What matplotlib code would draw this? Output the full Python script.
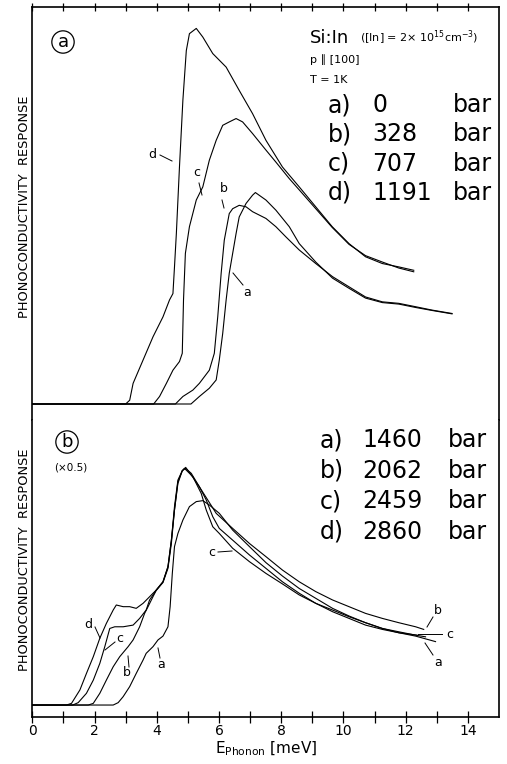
import matplotlib
matplotlib.use("Agg")
import matplotlib.pyplot as plt
from matplotlib.lines import Line2D

# ---- panel (a): Si:In, p || [100], T = 1 K   (energy in meV, response in arb. units, peak of d = 100)
a_d_E = [0, 3.0, 3.13, 3.24, 3.56, 3.88, 4.20, 4.41, 4.52, 4.57, 4.63, 4.73, 4.84, 4.95, 5.05, 5.27,
         5.48, 5.80, 6.23, 6.65, 7.08, 7.51, 8.04, 8.58, 9.11, 9.64, 10.18, 10.71, 11.25, 11.78, 12.26]
a_d_y = [0, 0, 1, 5.5, 11.7, 17.9, 23.2, 27.7, 29.4, 36.5, 45.4, 63.1, 80.9, 94.1, 98.6, 100,
         97.7, 93.3, 89.7, 83.5, 77.3, 70.2, 63.1, 57.8, 52.5, 47.2, 42.7, 39.2, 37.4, 36.5, 35.6]

a_c_E = [0, 3.9, 4.09, 4.31, 4.52, 4.73, 4.82, 4.86, 4.92, 5.05, 5.27, 5.48, 5.69, 5.91, 6.12, 6.33,
         6.55, 6.76, 7.08, 7.51, 7.83, 8.26, 8.58, 9.11, 9.64, 10.18, 10.71, 11.25, 11.78, 12.26]
a_c_y = [0, 0, 2, 5.5, 9.0, 11.3, 13.5, 27.7, 40.1, 47.2, 54.3, 57.8, 64.9, 70.2, 74.2, 75.1,
         76.0, 75.1, 72.0, 67.6, 64.4, 60.0, 57.0, 52.0, 47.0, 42.5, 39.5, 37.8, 36.2, 35.2]

a_b_E = [0, 4.6, 4.84, 5.16, 5.37, 5.69, 5.85, 5.96, 6.07, 6.17, 6.33, 6.44, 6.65, 6.87, 7.08, 7.51,
         7.83, 8.15, 8.58, 9.11, 9.65, 10.18, 10.71, 11.25, 11.78, 12.32, 12.85, 13.49]
a_b_y = [0, 0, 2.0, 3.7, 5.5, 9.0, 13.5, 23.2, 34.8, 43.6, 50.7, 52.0, 52.9, 52.5, 51.2, 49.4,
         47.2, 44.5, 41.0, 37.4, 33.9, 31.2, 28.5, 27.2, 26.8, 25.9, 25.0, 24.1]

a_a_E = [0, 5.1, 5.37, 5.69, 5.91, 6.01, 6.12, 6.23, 6.33, 6.44, 6.55, 6.65, 6.87, 7.08, 7.17, 7.51,
         7.83, 8.26, 8.58, 9.11, 9.65, 10.18, 10.71, 11.25, 11.78, 12.32, 12.85, 13.49]
a_a_y = [0, 0, 2.0, 4.2, 6.4, 11.7, 18.8, 27.7, 34.8, 40.1, 45.4, 49.8, 53.4, 55.6, 56.3, 54.3,
         51.6, 47.2, 42.7, 37.8, 33.5, 30.8, 28.2, 27.0, 26.6, 25.7, 24.9, 24.0]

a_labels = ["a)", "b)", "c)", "d)"]
a_pressures = ["0", "328", "707", "1191"]

# ---- panel (b): higher stress (x0.5), peak of d = 100
b_d_E = [0, 1.1, 1.26, 1.53, 1.74, 1.96, 2.17, 2.38, 2.60, 2.70, 2.92, 3.13, 3.34, 3.56, 3.72, 3.88,
         3.98, 4.20, 4.36, 4.47, 4.57, 4.68, 4.82, 4.93, 5.11, 5.37, 5.59, 5.80, 6.01, 6.44,
         6.98, 7.51, 8.04, 8.58, 9.11, 9.65, 10.18, 10.71, 11.25, 11.78, 12.32, 12.64]
b_d_y = [0.7, 0.7, 1.4, 7.0, 13.9, 20.9, 28.6, 34.8, 40.4, 42.5, 41.8, 41.8, 41.1, 43.2, 45.3, 47.4,
         48.7, 52.2, 58.5, 69.6, 83.6, 94.7, 98.6, 100, 96.8, 91.9, 86.4, 79.4, 74.5, 69.6,
         63.4, 57.8, 52.2, 47.4, 43.2, 40.4, 37.6, 35.1, 32.7, 31.3, 29.9, 29.2]

b_c_E = [0, 1.3, 1.475, 1.74, 1.96, 2.17, 2.33, 2.49, 2.65, 2.92, 3.24, 3.45, 3.66, 3.77, 3.88, 3.98,
         4.20, 4.36, 4.47, 4.57, 4.68, 4.82, 4.89, 5.16, 5.43, 5.59, 5.80, 6.01, 6.44, 6.98,
         7.51, 8.04, 8.58, 9.11, 9.65, 10.18, 10.71, 11.25, 11.78, 12.37]
b_c_y = [0.7, 0.7, 1.7, 5.6, 11.1, 18.1, 25.1, 32.7, 33.4, 33.4, 34.1, 36.9, 40.4, 44.6, 46.7, 48.7,
         52.2, 58.5, 69.6, 82.2, 93.3, 98.6, 99.6, 96.1, 89.1, 82.2, 75.2, 72.4, 66.2, 60.6,
         55.7, 51.3, 46.7, 43.2, 39.7, 36.9, 34.1, 32.3, 30.9, 29.9]

b_b_E = [0, 1.8, 1.96, 2.17, 2.38, 2.60, 2.81, 3.08, 3.24, 3.45, 3.61, 3.72, 3.88, 3.98, 4.20, 4.36,
         4.47, 4.57, 4.68, 4.82, 4.93, 5.11, 5.37, 5.91, 6.44, 6.98, 7.51, 8.04, 8.58, 9.11,
         9.65, 10.18, 10.71, 11.25, 11.78, 12.32, 12.58]
b_b_y = [0.7, 0.7, 1.4, 5.6, 11.1, 16.7, 20.9, 25.1, 27.9, 33.4, 39.0, 41.8, 46.0, 48.5, 51.9, 57.8,
         68.2, 82.2, 94.0, 98.6, 99.6, 97.5, 91.9, 80.8, 74.5, 68.2, 62.7, 57.1, 52.2, 48.1,
         44.6, 41.8, 39.0, 36.9, 35.1, 33.4, 32.3]

b_a_E = [0, 2.6, 2.76, 2.92, 3.13, 3.34, 3.56, 3.66, 3.88, 4.04, 4.20, 4.36, 4.43, 4.50, 4.57, 4.68,
         4.84, 5.05, 5.27, 5.48, 5.69, 6.01, 6.44, 6.98, 7.51, 8.04, 8.58, 9.11, 9.65, 10.18,
         10.71, 11.25, 11.78, 12.32, 12.96]
b_a_y = [0.7, 0.7, 1.7, 4.2, 8.4, 13.9, 19.5, 22.3, 25.1, 27.9, 29.5, 33.4, 41.8, 55.7, 66.9, 72.4,
         78.0, 83.6, 85.7, 86.1, 84.3, 80.8, 73.8, 66.9, 60.2, 54.6, 49.4, 45.3, 41.1, 37.9,
         35.1, 32.7, 30.9, 29.5, 27.2]

b_labels = ["a)", "b)", "c)", "d)"]
b_pressures = ["1460", "2062", "2459", "2860"]

x_ticks = list(range(0, 15))
x_ticklabels = [str(t) if t % 2 == 0 else "" for t in x_ticks]

W, H = 507, 764
fig = plt.figure(figsize=(W / 100, H / 100), dpi=100)


def fx(x, y):
    # reference pixel -> figure fraction
    return x / W, 1 - y / H


lw = 0.8
ax_a = fig.add_axes([32.3 / W, 1 - 420 / H, (499 - 32.3) / W, 413 / H])
ax_b = fig.add_axes([32.3 / W, 1 - 717 / H, (499 - 32.3) / W, 297 / H])

for E, y in [(a_d_E, a_d_y), (a_c_E, a_c_y), (a_b_E, a_b_y), (a_a_E, a_a_y)]:
    ax_a.plot(E, y, color="black", lw=lw)
for E, y in [(b_d_E, b_d_y), (b_c_E, b_c_y), (b_b_E, b_b_y), (b_a_E, b_a_y)]:
    ax_b.plot(E, y, color="black", lw=lw)

ax_a.set_xlim(0, 15)
ax_b.set_xlim(0, 15)
ax_a.set_ylim(-4.26, 105.7)
ax_b.set_ylim(-4.3, 119.8)

for ax in (ax_a, ax_b):
    ax.set_yticks([])
    for s in ax.spines.values():
        s.set_linewidth(1.2)
ax_a.spines["bottom"].set_visible(False)
ax_b.spines["top"].set_visible(False)

ax_a.set_xticks(x_ticks)
ax_a.xaxis.tick_top()
ax_a.tick_params(axis="x", direction="inout", length=6, width=0.9, labeltop=False)
ax_b.set_xticks(x_ticks)
ax_b.set_xticklabels(x_ticklabels)
ax_b.tick_params(axis="x", direction="inout", length=8, width=0.9, labelsize=10, pad=1)
ax_b.set_xlabel(r"$\mathregular{E_{Phonon}}$ [meV]", fontsize=11, labelpad=1)

for yc in (207, 560):
    fig.text(*fx(25, yc), "PHONOCONDUCTIVITY  RESPONSE", rotation=90, ha="center",
             va="center", fontsize=9.3)

# panel markers
circ = dict(boxstyle="circle,pad=0.12", fc="none", ec="black", lw=0.9)
fig.text(*fx(63, 42), "a", fontsize=13, ha="center", va="center", bbox=circ)
fig.text(*fx(67, 442), "b", fontsize=13, ha="center", va="center", bbox=circ)
fig.text(*fx(71, 468), "(×0.5)", fontsize=7.5, ha="center", va="center")

# sample description
fig.text(*fx(310, 38), "Si:In", fontsize=13, ha="left", va="center")
fig.text(*fx(360, 38), r"([In] = 2× 10$^{15}$cm$^{-3}$)", fontsize=8, ha="left", va="center")
fig.text(*fx(310, 60), "p ∥ [100]", fontsize=8, ha="left", va="center")
fig.text(*fx(310, 80), "T = 1K", fontsize=8, ha="left", va="center")

# pressure legends
for i, (lab, p) in enumerate(zip(a_labels, a_pressures)):
    yy = 105 + 29.3 * i
    fig.text(*fx(328, yy), lab, fontsize=17, ha="left", va="center")
    fig.text(*fx(372, yy), p, fontsize=17, ha="left", va="center")
    fig.text(*fx(492, yy), "bar", fontsize=17, ha="right", va="center")
for i, (lab, p) in enumerate(zip(b_labels, b_pressures)):
    yy = 440 + 30.6 * i
    fig.text(*fx(320, yy), lab, fontsize=17, ha="left", va="center")
    fig.text(*fx(362, yy), p, fontsize=17, ha="left", va="center")
    fig.text(*fx(487, yy), "bar", fontsize=17, ha="right", va="center")

# curve tags: (text position, leader line start, leader line end) in reference pixels
tags = [
    ("d", (152, 154), (160, 155), (172, 161)),
    ("c", (197, 173), (199, 183), (202, 195)),
    ("b", (224, 189), (222, 200), (224, 208)),
    ("a", (247, 292), (233, 273), (243, 285)),
    ("d", (88, 624), (95, 627), (100, 638)),
    ("c", (120, 639), (115, 642), (105, 650)),
    ("b", (127, 673), (128, 656), (129, 667)),
    ("a", (161, 665), (158, 648), (160, 658)),
    ("c", (212, 553), (218, 552), (232, 551)),
    ("b", (438, 611), (433, 617), (427, 627)),
    ("c", (450, 634), (418, 634), (442, 634)),
    ("a", (438, 662), (425, 643), (433, 655)),
]
for t, (tx, ty), (x0, y0), (x1, y1) in tags:
    fig.text(*fx(tx, ty), t, fontsize=9, ha="center", va="center")
    p0, p1 = fx(x0, y0), fx(x1, y1)
    fig.add_artist(Line2D([p0[0], p1[0]], [p0[1], p1[1]], color="black", lw=0.7,
                          transform=fig.transFigure))

fig.savefig("out.png", dpi=100, facecolor="white")
